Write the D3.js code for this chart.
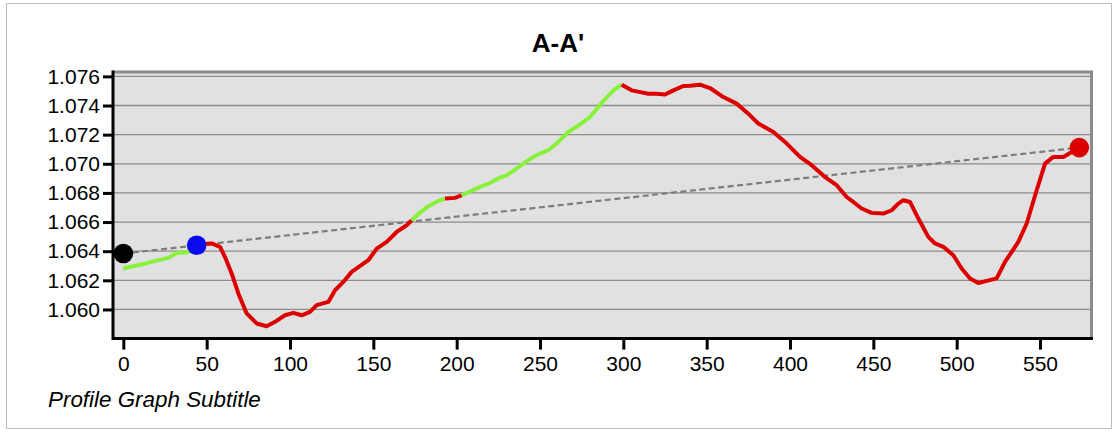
<!DOCTYPE html>
<html>
<head>
<meta charset="utf-8">
<script src="https://cdn.jsdelivr.net/npm/d3@7"></script>
<style>
  html, body { margin: 0; padding: 0; background: #ffffff; }
  svg { display: block; }
  text { font-family: "Liberation Sans", Arial, sans-serif; }
</style>
</head>
<body>
<svg id="chart" width="1118" height="432"></svg>
<script>
// ---- data ----
const title = "A-A'";
const subtitle = "Profile Graph Subtitle";

const distance = [0, 5, 11, 18, 27, 32, 39, 44, 48, 53, 58, 61, 65, 69, 74, 80, 86, 91, 97, 102, 107, 112, 116, 123, 127, 132, 137, 147, 152, 158, 164, 170, 173, 178, 183, 188, 193, 199, 203, 208, 214, 220, 226, 230, 235, 240, 245, 250, 255, 261, 267, 274, 280, 285, 290, 294, 299, 305, 308, 315, 320, 325, 330, 336, 340, 346, 352, 360, 368, 375, 381, 390, 397, 406, 413, 421, 428, 434, 438, 443, 449, 456, 461, 465, 468, 472, 477, 483, 487, 492, 498, 503, 508, 513, 518, 524, 529, 537, 542, 548, 553, 558, 564, 569, 573.6];
const elevation = [1.06281, 1.06295, 1.06309, 1.06330, 1.06354, 1.06388, 1.06395, 1.06441, 1.06450, 1.06453, 1.06430, 1.06360, 1.06247, 1.06110, 1.05973, 1.05904, 1.05885, 1.05915, 1.05960, 1.05977, 1.05960, 1.05984, 1.06030, 1.06052, 1.06132, 1.06189, 1.06258, 1.06338, 1.06418, 1.06464, 1.06532, 1.06578, 1.06612, 1.06665, 1.06709, 1.06740, 1.06761, 1.06766, 1.06784, 1.06810, 1.06841, 1.06868, 1.06905, 1.06921, 1.06960, 1.07001, 1.07040, 1.07070, 1.07093, 1.07150, 1.07218, 1.07270, 1.07321, 1.07390, 1.07455, 1.07504, 1.07543, 1.07504, 1.07497, 1.07481, 1.07481, 1.07475, 1.07504, 1.07534, 1.07535, 1.07543, 1.07520, 1.07458, 1.07413, 1.07344, 1.07276, 1.07218, 1.07150, 1.07047, 1.06990, 1.06909, 1.06853, 1.06772, 1.06738, 1.06693, 1.06663, 1.06658, 1.06681, 1.06727, 1.06750, 1.06738, 1.06624, 1.06498, 1.06453, 1.06430, 1.06372, 1.06281, 1.06213, 1.06182, 1.06196, 1.06213, 1.06326, 1.06464, 1.06590, 1.06818, 1.07001, 1.07047, 1.07047, 1.07081, 1.07111];
// distance ranges visible from the observer (green), the rest is hidden (red)
const visibleRanges = [[0, 44], [173, 193], [203, 299]];

const observer = [0, 1.06384];
const obstruction = [44, 1.06441];
const target = [573.6, 1.07111];

const xTicks = [0, 50, 100, 150, 200, 250, 300, 350, 400, 450, 500, 550];
const yTicks = [1.060, 1.062, 1.064, 1.066, 1.068, 1.070, 1.072, 1.074, 1.076];

// ---- layout ----
const svg = d3.select("#chart");
const L = 113, R = 1091.5, T = 72, B = 338.6;
const x = d3.scaleLinear().domain([-6.2, 580.9]).range([L, R]);
const y = d3.scaleLinear().domain([1.058, 1.0763]).range([B, T]);

// outer frame
svg.append("rect").attr("x", 6.5).attr("y", 3.5).attr("width", 1105).attr("height", 425)
  .attr("fill", "#fff").attr("stroke", "#bdbdbd").attr("stroke-width", 1);

// title & subtitle
svg.append("text").attr("x", 558).attr("y", 52).attr("text-anchor", "middle")
  .attr("font-size", 26).attr("font-weight", "bold").attr("fill", "#000").text(title);
svg.append("text").attr("x", 48).attr("y", 407)
  .attr("font-size", 22.4).attr("font-style", "italic").attr("fill", "#000").text(subtitle);

// plot background
svg.append("rect").attr("x", L).attr("y", T).attr("width", R - L).attr("height", B - T)
  .attr("fill", "#e1e1e1");

// gridlines
svg.append("g").selectAll("line").data(yTicks).join("line")
  .attr("x1", L).attr("x2", R)
  .attr("y1", d => y(d)).attr("y2", d => y(d))
  .attr("stroke", "#8c8c8c").attr("stroke-width", 1.3);

// top & right border
svg.append("path")
  .attr("d", `M${L},${T}H${R}V${B}`)
  .attr("fill", "none").attr("stroke", "#8a8a8a").attr("stroke-width", 3);

// line of sight
svg.append("line")
  .attr("x1", x(observer[0])).attr("y1", y(observer[1]))
  .attr("x2", x(target[0])).attr("y2", y(target[1]))
  .attr("stroke", "#7d7d7d").attr("stroke-width", 2.2).attr("stroke-dasharray", "6,3.5");

// profile segments coloured by visibility
const pts = distance.map((d, i) => [d, elevation[i]]);
const isVisible = d => visibleRanges.some(r => d >= r[0] && d <= r[1]);
const segs = [];
for (let i = 0; i < pts.length - 1; i++) {
  const vis = isVisible((pts[i][0] + pts[i + 1][0]) / 2);
  const last = segs[segs.length - 1];
  if (last && last.vis === vis) last.pts.push(pts[i + 1]);
  else segs.push({ vis, pts: [pts[i], pts[i + 1]] });
}
const line = d3.line().x(d => x(d[0])).y(d => y(d[1])).curve(d3.curveLinear);
svg.append("g").selectAll("path").data(segs).join("path")
  .attr("d", d => line(d.pts))
  .attr("fill", "none")
  .attr("stroke", d => d.vis ? "#88f23a" : "#dd0000")
  .attr("stroke-width", 4)
  .attr("stroke-linejoin", "round").attr("stroke-linecap", "butt");

// markers
const markers = [
  { p: observer, c: "#000000" },
  { p: obstruction, c: "#0a0af0" },
  { p: target, c: "#dd0000" }
];
svg.append("g").selectAll("circle").data(markers).join("circle")
  .attr("cx", d => x(d.p[0])).attr("cy", d => y(d.p[1])).attr("r", 9.8)
  .attr("fill", d => d.c);

// axes
const yAxis = svg.append("g").attr("transform", `translate(${L},0)`)
  .call(d3.axisLeft(y).tickValues(yTicks).tickFormat(d3.format(".3f")).tickSize(10).tickPadding(3));
const xAxis = svg.append("g").attr("transform", `translate(0,${B})`)
  .call(d3.axisBottom(x).tickValues(xTicks).tickFormat(d3.format("d")).tickSize(11).tickPadding(6));
[yAxis, xAxis].forEach(g => {
  g.select(".domain").remove();
  g.selectAll(".tick line").attr("stroke", "#000").attr("stroke-width", 3);
  g.selectAll(".tick text").attr("font-size", 21).attr("fill", "#000")
    .attr("font-family", "'Liberation Sans', Arial, sans-serif");
});
// black axis lines (left & bottom)
svg.append("path")
  .attr("d", `M${L},${T - 1.5}V${B}H${R + 1.5}`)
  .attr("fill", "none").attr("stroke", "#000").attr("stroke-width", 3);
</script>
</body>
</html>
